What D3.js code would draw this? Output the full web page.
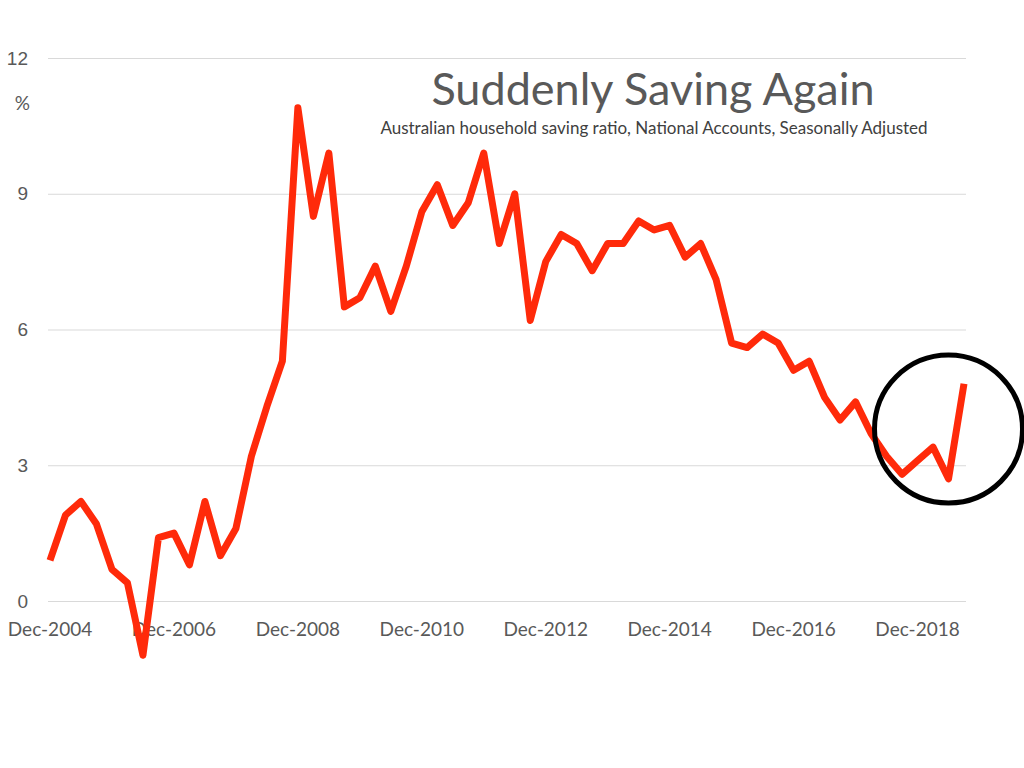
<!DOCTYPE html>
<html>
  <head>
    <meta charset='utf-8'>
    <title>Suddenly Saving Again</title>
    <script src='https://d3js.org/d3.v7.min.js'></script>
    <style type='text/css'>
      body, html {
        margin: 0;
        padding: 0;
        background: #fff;
      }
      svg {
        display: block;
        font-family: Lato, 'Open Sans', sans-serif;
      }
    </style>
  </head>
  <body>
    <svg width='1024' height='768'></svg>
    <script type='text/javascript'>
      // quarterly saving ratio, Dec-2004 .. Sep-2019
      var savingRatio = [
        0.9, 1.9, 2.2, 1.7, 0.7, 0.4, -1.2, 1.4, 1.5, 0.8,
        2.2, 1.0, 1.6, 3.2, 4.3, 5.3, 10.9, 8.5, 9.9, 6.5,
        6.7, 7.4, 6.4, 7.4, 8.6, 9.2, 8.3, 8.8, 9.9, 7.9,
        9.0, 6.2, 7.5, 8.1, 7.9, 7.3, 7.9, 7.9, 8.4, 8.2,
        8.3, 7.6, 7.9, 7.1, 5.7, 5.6, 5.9, 5.7, 5.1, 5.3,
        4.5, 4.0, 4.4, 3.7, 3.2, 2.8, 3.1, 3.4, 2.7, 4.8
      ]
      var xTickLabels = ['Dec-2004', 'Dec-2006', 'Dec-2008', 'Dec-2010', 'Dec-2012', 'Dec-2014', 'Dec-2016', 'Dec-2018']
      var xTickIndex = [0, 8, 16, 24, 32, 40, 48, 56]
      var yTicks = [0, 3, 6, 9, 12]
      // circled area: centre as (quarter index, %)
      var highlight = {index: 58, value: 3.8}

      var svg = d3.select('svg')

      var x = d3.scaleLinear()
        .domain([0, savingRatio.length - 1])
        .range([50, 964])

      var y = d3.scaleLinear()
        .domain([0, 12])
        .range([601, 58])

      // gridlines + y labels
      var yAxis = d3.axisLeft(y)
        .tickValues(yTicks)
        .tickSize(-918)
        .tickPadding(20)
        .tickFormat(d3.format('d'))

      var gy = svg.append('g')
        .attr('transform', 'translate(48,0)')
        .call(yAxis)
      gy.select('.domain').remove()
      gy.selectAll('.tick line')
        .attr('stroke', '#d9d9d9')
        .attr('stroke-width', 1.2)
      gy.selectAll('.tick text')
        .attr('fill', '#595959')
        .attr('font-size', 19)

      svg.append('text')
        .attr('x', 30)
        .attr('y', y(10.85))
        .attr('text-anchor', 'end')
        .attr('fill', '#595959')
        .attr('font-size', 19)
        .text('%')

      // x labels
      var gx = svg.append('g')
        .attr('transform', 'translate(0,' + y(0) + ')')
      gx.selectAll('text')
        .data(xTickIndex)
        .enter().append('text')
          .attr('x', function(d) { return x(d); })
          .attr('y', 35)
          .attr('text-anchor', 'middle')
          .attr('fill', '#595959')
          .attr('font-size', 19)
          .text(function(d, i) { return xTickLabels[i]; })

      // series
      var line = d3.line()
        .x(function(d, i) { return x(i); })
        .y(function(d) { return y(d); })

      svg.append('path')
        .datum(savingRatio)
        .attr('fill', 'none')
        .attr('stroke', '#ff2a0a')
        .attr('stroke-width', 7)
        .attr('stroke-linejoin', 'round')
        .attr('d', line)

      // title
      svg.append('text')
        .attr('x', 653)
        .attr('y', 105)
        .attr('text-anchor', 'middle')
        .attr('fill', '#595959')
        .attr('font-size', 45)
        .text('Suddenly Saving Again')

      svg.append('text')
        .attr('x', 654)
        .attr('y', 134)
        .attr('text-anchor', 'middle')
        .attr('fill', '#404040')
        .attr('font-size', 17)
        .text('Australian household saving ratio, National Accounts, Seasonally Adjusted')

      // circle annotation
      svg.append('circle')
        .attr('cx', x(highlight.index))
        .attr('cy', y(highlight.value))
        .attr('r', 74)
        .attr('fill', 'none')
        .attr('stroke', '#000')
        .attr('stroke-width', 5)
    </script>
  </body>
</html>
